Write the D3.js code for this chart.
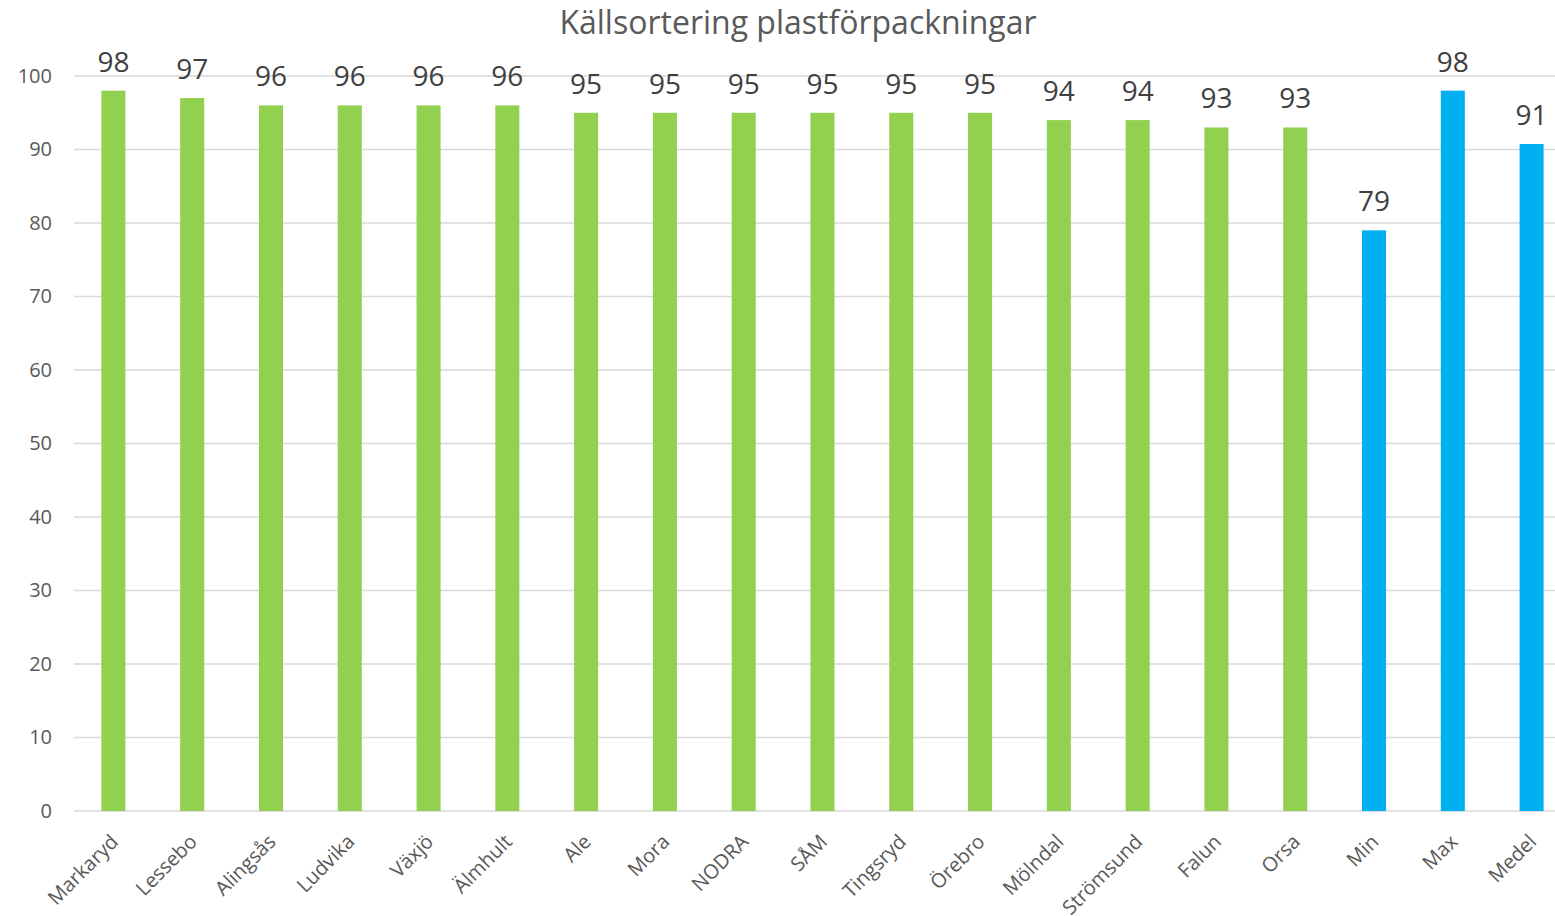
<!DOCTYPE html>
<html>
<head>
<meta charset="utf-8">
<script src="https://cdn.jsdelivr.net/npm/d3@7"></script>
<style>
  body { margin: 0; background: #fff; }
  svg { display: block; font-family: "Open Sans", sans-serif; }
</style>
</head>
<body>
<script>
const width = 1555;
const height = 916;
const margin = { top: 76, right: -16, bottom: 105, left: 74 };

const categories = ["Markaryd", "Lessebo", "Alingsås", "Ludvika", "Växjö", "Älmhult", "Ale", "Mora", "NODRA", "SÅM",
  "Tingsryd", "Örebro", "Mölndal", "Strömsund", "Falun", "Orsa", "Min", "Max", "Medel"];
const values = [98, 97, 96, 96, 96, 96, 95, 95, 95, 95, 95, 95, 94, 94, 93, 93, 79, 98, 90.75];
const summary = ["Min", "Max", "Medel"];
const yTicks = [0, 10, 20, 30, 40, 50, 60, 70, 80, 90, 100];

const green = "#92d050";
const blue = "#00b0f0";

const x = d3.scaleBand()
  .domain(categories)
  .range([margin.left, width - margin.right])
  .paddingInner(0.695)
  .paddingOuter(0.3475);

const y = d3.scaleLinear()
  .domain([0, 100])
  .range([height - margin.bottom, margin.top]);

const svg = d3.select("body").append("svg")
  .attr("width", width)
  .attr("height", height);

// title
svg.append("text")
  .attr("x", 798)
  .attr("y", 34)
  .attr("text-anchor", "middle")
  .attr("fill", "#595959")
  .style("font-size", "32px")
  .text("Källsortering plastförpackningar");

// gridlines
svg.append("g")
  .selectAll("line")
  .data(yTicks)
  .join("line")
  .attr("x1", margin.left)
  .attr("x2", width)
  .attr("y1", d => y(d))
  .attr("y2", d => y(d))
  .attr("stroke", "#d9d9d9")
  .attr("stroke-width", 1.5);

// y axis labels
const yAxis = g => g
  .attr("transform", `translate(${margin.left},0)`)
  .call(d3.axisLeft(y).tickValues(yTicks).tickSize(0).tickPadding(22))
  .call(g => g.select(".domain").remove())
  .call(g => g.selectAll("text")
    .attr("fill", "#595959")
    .style("font-size", "20px")
    .style("font-family", "'Open Sans', sans-serif"));

svg.append("g").call(yAxis);

// bars
svg.append("g")
  .selectAll("rect")
  .data(categories)
  .join("rect")
  .attr("x", d => x(d))
  .attr("width", x.bandwidth())
  .attr("y", (d, i) => y(values[i]))
  .attr("height", (d, i) => y(0) - y(values[i]))
  .attr("fill", d => summary.includes(d) ? blue : green);

// value labels
svg.append("g")
  .selectAll("text")
  .data(categories)
  .join("text")
  .attr("x", d => x(d) + x.bandwidth() / 2)
  .attr("y", (d, i) => y(values[i]) - 19)
  .attr("text-anchor", "middle")
  .attr("fill", "#404040")
  .style("font-size", "28px")
  .text((d, i) => Math.round(values[i]));

// x axis labels
const xAxis = g => g
  .attr("transform", `translate(0,${y(0)})`)
  .call(d3.axisBottom(x).tickSize(0).tickPadding(0))
  .call(g => g.select(".domain").remove())
  .call(g => g.selectAll("text")
    .attr("fill", "#595959")
    .style("font-size", "20px")
    .style("font-family", "'Open Sans', sans-serif")
    .attr("text-anchor", "end")
    .attr("dy", "0")
    .attr("transform", "translate(6,32) rotate(-45)"));

svg.append("g").call(xAxis);
</script>
</body>
</html>
